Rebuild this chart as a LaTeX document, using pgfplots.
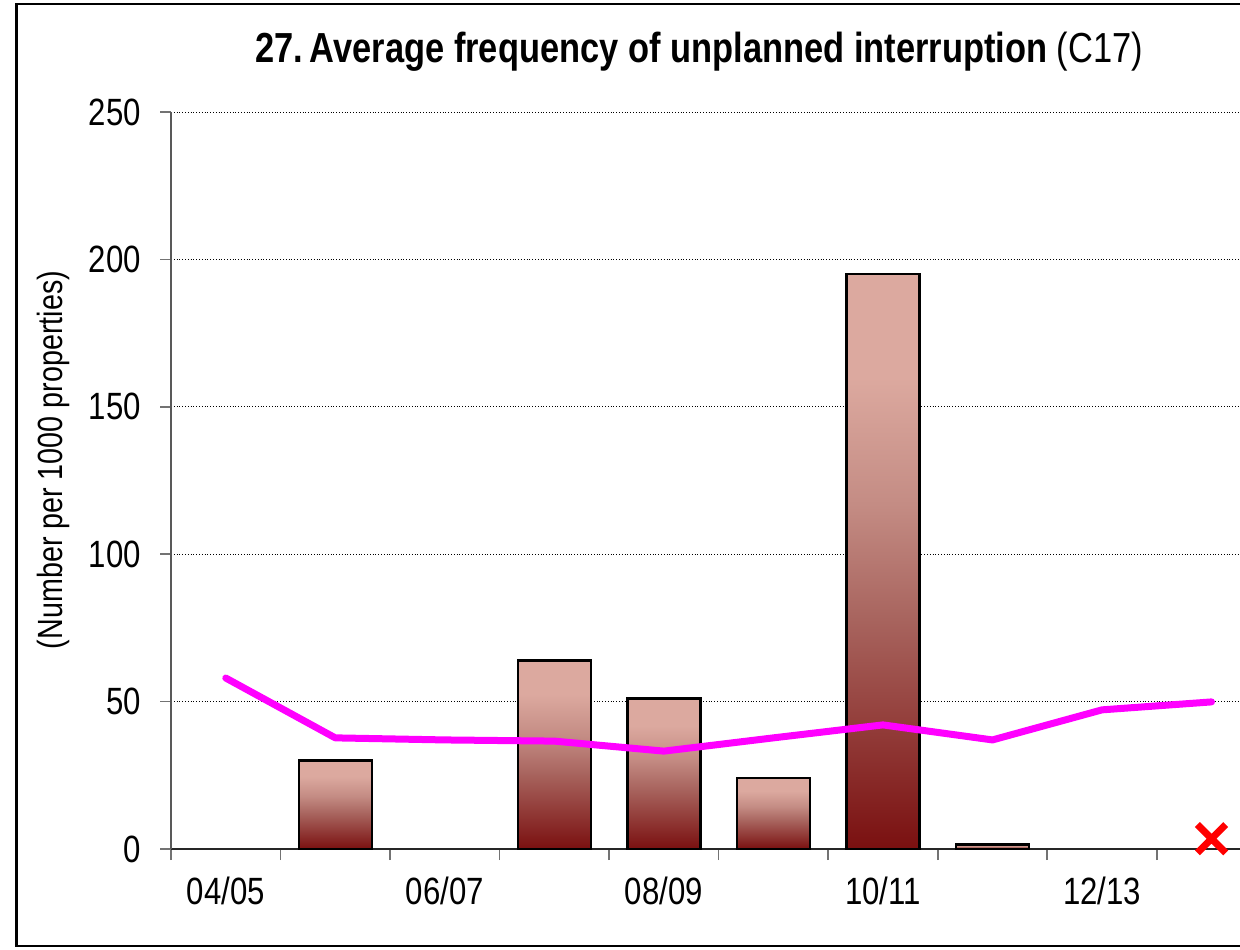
\documentclass[border=0pt]{standalone}
\usepackage{fontspec}
\setmainfont[FakeStretch=0.82]{Liberation Sans}
\usepackage{pgfplots}
\pgfplotsset{compat=1.18}
\definecolor{barlight}{HTML}{DCA99F}
\definecolor{barmid}{HTML}{A8645E}
\definecolor{barmid2}{HTML}{C48C84}
\definecolor{bardark}{HTML}{7A1010}
\definecolor{linemag}{HTML}{FF00FF}
\pgfdeclareverticalshading{barshade}{100bp}{color(0bp)=(bardark); color(25bp)=(bardark); color(45bp)=(barmid); color(55bp)=(barmid2); color(66bp)=(barlight); color(75bp)=(barlight); color(100bp)=(barlight)}
\begin{document}
\begin{tikzpicture}
\path[use as bounding box] (0,0) rectangle (620pt,474.5pt);
\begin{axis}[
  at={(85.5pt,50pt)}, anchor=south west,
  scale only axis, width=534.5pt, height=368.5pt,
  xmin=-0.5, xmax=9.26, ymin=0, ymax=250,
  axis x line*=bottom, axis y line*=left,
  axis line style={-},
  x axis line style={black!85, line width=0.8pt},
  y axis line style={black!65, line width=0.8pt},
  ytick={0,50,100,150,200,250},
  xtick={-0.5,0.5,1.5,2.5,3.5,4.5,5.5,6.5,7.5,8.5},
  xticklabels={04/05,,06/07,,08/09,,10/11,,12/13,},
  tick align=outside, major tick length=5.5pt,
  tick style={black!55, line width=0.8pt},
  ymajorgrids, grid style={black, densely dotted, line width=0.45pt},
  /pgf/number format/assume math mode=true,
  ticklabel style={font=\fontsize{19}{22}\selectfont},
  xticklabel style={xshift=27.38pt, yshift=-5pt},
  yticklabel style={xshift=-6pt},
  clip=false,
  barst/.style={ybar, bar width=36.5pt, bar shift=0pt, draw=black, line width=1.2pt, shading=barshade, shade},
]
\addplot[barst] coordinates {(1,30)};
\addplot[barst] coordinates {(3,64)};
\addplot[barst] coordinates {(4,51)};
\addplot[barst] coordinates {(5,24)};
\addplot[barst] coordinates {(6,195)};
\addplot[barst] coordinates {(7,1.5)};
\addplot[sharp plot, linemag, line width=3.5pt, line join=round, line cap=round, mark=none]
  coordinates {(0,58) (1,37.7) (2,37) (3,36.6) (4,33.2) (5,37.7) (6,42.1) (7,37) (8,47.2) (9,49.9)};
\addplot[only marks, mark=x, mark size=10pt, red, line width=3.5pt]
  coordinates {(9,3.5)};
\end{axis}
\draw[line width=1.25pt] (700pt,472.4pt) -- (8.2pt,472.4pt) -- (8.2pt,1.5pt) -- (700pt,1.5pt);
\node[anchor=base, font=\fontsize{21}{24}\selectfont] at (349.5pt,443pt) {\textbf{27.\,Average frequency of unplanned interruption} (C17)};
\node[rotate=90, font=\fontsize{17.5}{20}\selectfont] at (26.5pt,244.5pt) {(Number per 1000 properties)};
\end{tikzpicture}
\end{document}
